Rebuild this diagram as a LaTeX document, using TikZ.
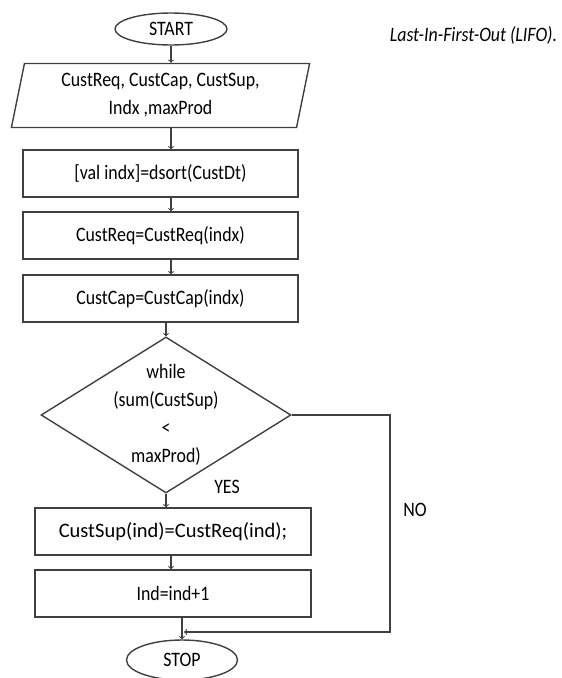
\documentclass[tikz,border=0pt]{standalone}
\usepackage{fontspec}
\setmainfont{Carlito}[FakeStretch=0.87]
\newfontfamily\widefont{Carlito}
\usetikzlibrary{shapes.geometric}

\begin{document}
\begin{tikzpicture}
  [x=1pt, y=-1pt, line width=1.4pt,
   every node/.style={font=\fontsize{20.5}{28}\selectfont},
   flow/.style={draw=black!75},
   box/.style={flow, rectangle, minimum width=275pt, minimum height=47pt},
   term/.style={flow, ellipse, minimum width=112pt, minimum height=32pt, inner sep=0pt},
   io/.style={flow, trapezium, trapezium left angle=79, trapezium right angle=101,
     trapezium stretches=true, minimum width=299pt, minimum height=64pt, align=center},
   cond/.style={flow, diamond, minimum width=250pt, minimum height=156pt, inner sep=0pt},
   arrow/.style={draw=black!75, line width=1.1pt, ->}]
  \useasboundingbox (0, 0) rectangle (562, 678);
  \node[term] (start) at (171, 29) {START};
  \node[io] (input) at (160.5, 95.5) {CustReq, CustCap, CustSup,\\Indx ,maxProd};
  \node[box] (sortbox) at (160.5, 173.5) {[val indx]=dsort(CustDt)};
  \node[box] (reqbox) at (160.5, 235.5) {CustReq=CustReq(indx)};
  \node[box] (capbox) at (160.5, 298.5) {CustCap=CustCap(indx)};
  \node[cond] (loop) at (166, 415) {};
  \node[align=center] (looptext) at (loop.center) {while\\(sum(CustSup)\\<\\maxProd)};
  \node[box, minimum width=276pt] (supbox) at (173, 531.5)
    {\widefont CustSup(ind)=CustReq(ind);};
  \node[box, minimum width=276pt] (incbox) at (173, 593.5) {Ind=ind+1};
  \node[term, minimum width=111pt, minimum height=40pt] (stop) at (182, 660) {STOP};
  \node (yes) at (227, 487) {YES};
  \node (no) at (415, 510) {NO};
  \node[font=\fontsize{20.5}{28}\selectfont\itshape] (lifo) at (473.5, 35)
    {Last-In-First-Out (LIFO).};
  \coordinate (noright) at (390, 415);
  \coordinate (nodown) at (390, 632);
  \draw[arrow] (start.south) -- (input.north -| start.south);
  \draw[arrow] (input.south -| start) -- (sortbox.north -| start);
  \draw[arrow] (sortbox.south -| start) -- (reqbox.north -| start);
  \draw[arrow] (reqbox.south -| start) -- (capbox.north -| start);
  \draw[arrow] (capbox.south -| loop) -- (loop.north);
  \draw[arrow] (loop.south) -- (supbox.north -| loop);
  \draw[arrow] (supbox.south -| start) -- (incbox.north -| start);
  \draw[arrow] (incbox.south -| stop) -- (stop.north);
  \draw[arrow] (loop.east) -- (noright) -- (nodown) -- ([xshift=2pt]nodown -| stop);
\end{tikzpicture}
\end{document}
